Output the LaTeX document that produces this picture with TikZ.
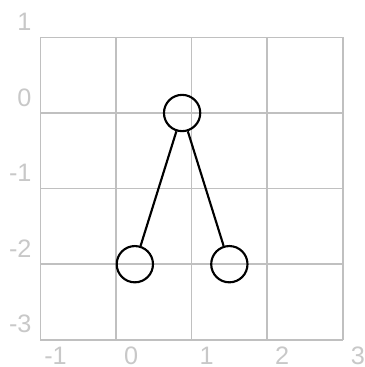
\documentclass[tikz,border=0pt]{standalone}
\usepackage{fontspec}
\setmainfont{Liberation Sans}
\definecolor{gridgray}{RGB}{192,192,192}
\definecolor{labelgray}{RGB}{200,200,200}

\begin{document}
\begin{tikzpicture}[font=\fontsize{9.5}{11}\selectfont,
  treenode/.style={draw=black, circle, line width=0.8pt, minimum size=0.48cm, inner sep=0pt},
  gridlabel/.style={text=labelgray, inner sep=0pt}]
\useasboundingbox (-1.534,-3.36) rectangle (3.294,1.495);
% background grid with its numbers
\draw[gridgray, line width=0.6pt] (-1,-3) grid (3,1);
\foreach \x in {-1,...,3}
  \node[gridlabel] (xlab\x) at (\x+0.2,-3.21) {\x};
\foreach \y in {-3,...,1}
  \node[gridlabel, anchor=east] (ylab\y) at (-1.11,\y+0.205) {\y};
% the tree
\node[treenode] (root) at (0.875,0) {};
\node[treenode] (leftchild) at (0.25,-2) {};
\node[treenode] (rightchild) at (1.5,-2) {};
\draw[line width=0.8pt] (root) -- (leftchild);
\draw[line width=0.8pt] (root) -- (rightchild);
\end{tikzpicture}
\end{document}
